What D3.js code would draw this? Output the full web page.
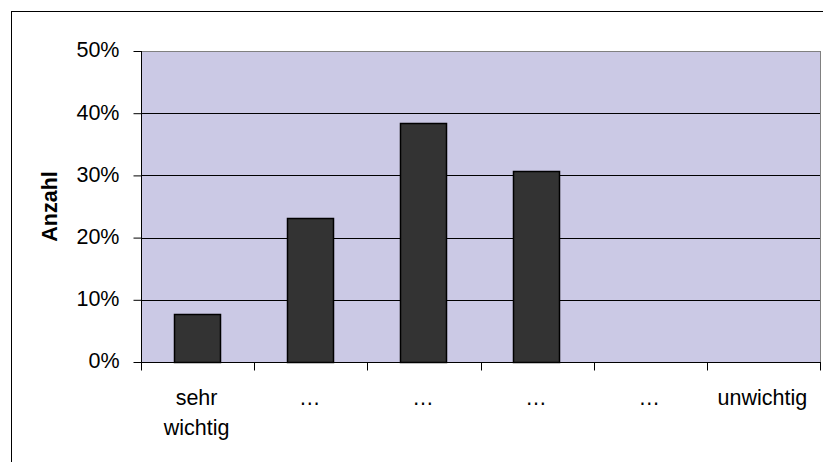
<!DOCTYPE html>
<html>
<head>
<meta charset="utf-8">
<script src="https://cdn.jsdelivr.net/npm/d3@7"></script>
<style>
  html, body { margin: 0; padding: 0; background: #fff; }
  svg { display: block; font-family: Arial, "Liberation Sans", sans-serif; }
</style>
</head>
<body>
<svg id="chart" width="823" height="462"></svg>
<script>
// Answer categories (rating scale) and share of responses
const categories = ["sehr\nwichtig", "…", "…", "…", "…", "unwichtig"];
const shares = [1 / 13, 3 / 13, 5 / 13, 4 / 13, 0, 0];
const yTicks = [0, 0.1, 0.2, 0.3, 0.4, 0.5];
const yTitle = "Anzahl";

const FS = 21.5;
const svg = d3.select("#chart");
const plot = { left: 141, top: 51, right: 820, bottom: 362 };

// Outer chart frame (extends past right and bottom edges)
svg.append("rect")
  .attr("x", 11.5).attr("y", 11.5)
  .attr("width", 830).attr("height", 470)
  .attr("fill", "none").attr("stroke", "#000").attr("stroke-width", 1);

const x = d3.scaleBand()
  .domain(d3.range(categories.length))
  .range([plot.left, plot.right])
  .paddingInner(0).paddingOuter(0);

const y = d3.scaleLinear().domain([0, 0.5]).range([plot.bottom, plot.top]);

// Plot background
svg.append("rect")
  .attr("x", plot.left).attr("y", plot.top)
  .attr("width", plot.right - plot.left).attr("height", plot.bottom - plot.top)
  .attr("fill", "#cbc9e5");

// Gridlines
svg.append("g")
  .selectAll("line")
  .data(yTicks.filter(t => t > 0))
  .join("line")
  .attr("x1", plot.left).attr("x2", plot.right)
  .attr("y1", d => Math.round(y(d)) + 0.5).attr("y2", d => Math.round(y(d)) + 0.5)
  .attr("stroke", d => d === 0.5 ? "#808080" : "#000")
  .attr("stroke-width", 1);

// Right edge of plot area
svg.append("line")
  .attr("x1", plot.right + 0.5).attr("x2", plot.right + 0.5)
  .attr("y1", plot.top).attr("y2", plot.bottom)
  .attr("stroke", "#808080");

// Bars
const barW = 46;
svg.append("g")
  .selectAll("rect")
  .data(shares)
  .join("rect")
  .filter(d => d > 0)
  .attr("x", (d, i) => Math.round(x(i) + x.bandwidth() / 2 - barW / 2 - 1) + 0.5)
  .attr("y", d => Math.round(y(d)) + 0.5)
  .attr("width", barW)
  .attr("height", d => Math.round(y(0)) - Math.round(y(d)))
  .attr("fill", "#333333")
  .attr("stroke", "#000")
  .attr("stroke-width", 1.5);

// Y axis
const yAxis = d3.axisLeft(y)
  .tickValues(yTicks)
  .tickFormat(d3.format(".0%"))
  .tickSize(8)
  .tickPadding(14);
const gy = svg.append("g")
  .attr("transform", `translate(${plot.left + 0.5},0)`)
  .call(yAxis);
gy.select(".domain").attr("stroke", "#000").attr("d", `M0,${plot.top}V${plot.bottom}`);
gy.selectAll(".tick line").attr("stroke", "#000");
gy.selectAll(".tick text")
  .attr("font-size", FS).attr("fill", "#000").attr("dy", "0.27em")
  .attr("font-family", "Arial, 'Liberation Sans', sans-serif");

// X axis with ticks at category boundaries
const gx = svg.append("g")
  .attr("transform", `translate(0,${Math.round(y(0)) + 0.5})`);
gx.append("line")
  .attr("x1", plot.left).attr("x2", plot.right + 1)
  .attr("stroke", "#000");
gx.selectAll(".bt")
  .data(d3.range(categories.length + 1))
  .join("line")
  .attr("class", "bt")
  .attr("x1", i => Math.round(plot.left + i * x.bandwidth()) + 0.5)
  .attr("x2", i => Math.round(plot.left + i * x.bandwidth()) + 0.5)
  .attr("y1", 0).attr("y2", 8)
  .attr("stroke", "#000");

// Category labels
const lab = svg.append("g");
categories.forEach((c, i) => {
  const lines = c.split("\n");
  const cx = x(i) + x.bandwidth() / 2 - 1;
  const t = lab.append("text")
    .attr("x", cx)
    .attr("y", 405)
    .attr("text-anchor", "middle")
    .attr("font-size", FS)
    .attr("fill", "#000");
  lines.forEach((l, k) => {
    t.append("tspan")
      .attr("x", cx)
      .attr("dy", k === 0 ? 0 : 30)
      .text(l);
  });
});

// Y axis title
svg.append("text")
  .attr("transform", `translate(57,${(plot.top + plot.bottom) / 2}) rotate(-90)`)
  .attr("text-anchor", "middle")
  .attr("font-size", FS)
  .attr("font-weight", "bold")
  .attr("fill", "#000")
  .text(yTitle);
</script>
</body>
</html>
